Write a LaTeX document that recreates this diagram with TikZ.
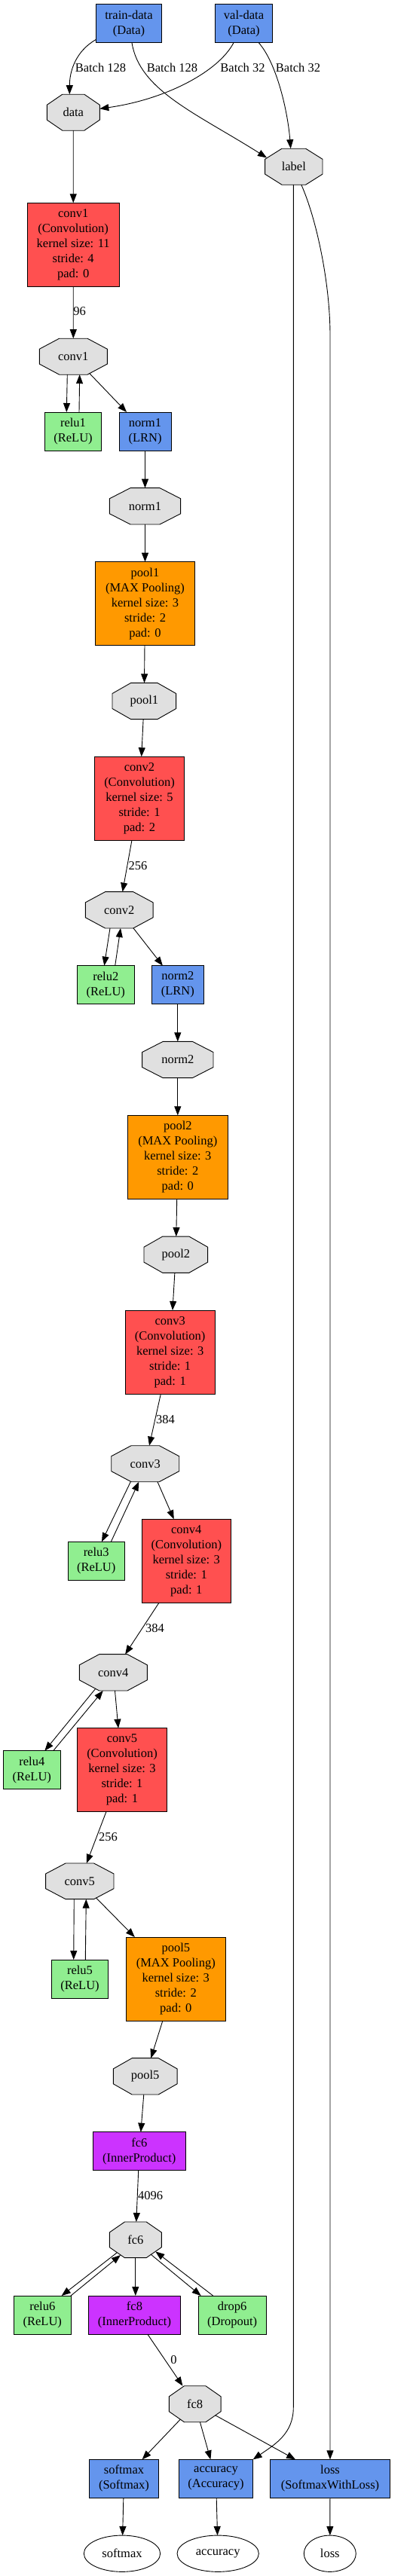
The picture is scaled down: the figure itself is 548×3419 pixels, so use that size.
\documentclass[tikz,border=0pt]{standalone}
\usepackage{fontspec}
\setmainfont{Liberation Serif}
\usetikzlibrary{arrows.meta,calc,shapes.geometric}
\pgfdeclarelayer{bg}
\pgfsetlayers{bg,main}
\definecolor{datablue}{HTML}{6495ED}
\definecolor{convred}{HTML}{FF5050}
\definecolor{poolorange}{HTML}{FF9900}
\definecolor{ippurple}{HTML}{CC33FF}
\definecolor{relugreen}{HTML}{90EE90}
\definecolor{blobgray}{HTML}{E0E0E0}
\tikzset{
  base/.style={inner sep=0pt, outer sep=0pt, align=center, font=\fontsize{16.5}{20}\selectfont},
  wh/.style 2 args={minimum width=#1pt, minimum height=#2pt},
  layerbox/.style={base, rectangle, draw=black, line width=0.9pt},
  datbox/.style={layerbox, fill=datablue},
  convbox/.style={layerbox, fill=convred},
  poolbox/.style={layerbox, fill=poolorange},
  ipbox/.style={layerbox, fill=ippurple},
  relubox/.style={layerbox, fill=relugreen},
  blob/.style={base, rectangle, draw=none},
  outblob/.style={base, ellipse, draw=black, line width=0.9pt, fill=white},
  blobshape/.style={fill=blobgray, draw=black, line width=0.9pt, line join=miter},
  elab/.style={base},
  e/.style={draw=black, line width=0.9pt, -{Triangle[length=12pt,width=9pt]}},
}
\newcommand\octo[1]{%
  \path[blobshape] ($(#1.north west)!0.2929!(#1.north east)$) -- ($(#1.north west)!0.7071!(#1.north east)$)
   -- ($(#1.north east)!0.2929!(#1.south east)$) -- ($(#1.north east)!0.7071!(#1.south east)$)
   -- ($(#1.south east)!0.2929!(#1.south west)$) -- ($(#1.south east)!0.7071!(#1.south west)$)
   -- ($(#1.south west)!0.2929!(#1.north west)$) -- ($(#1.south west)!0.7071!(#1.north west)$) -- cycle;}
\begin{document}
\begin{tikzpicture}[x=1pt,y=-1pt]
\useasboundingbox (0,0) rectangle (548,3419);

% layers
\node[datbox,wh={86.6}{51}] (tdata) at (171,31.2) {train-data\\(Data)};
\node[datbox,wh={76.4}{51}] (vdata) at (323.5,31.2) {val-data\\(Data)};
\node[blob,wh={70}{48}] (data) at (97.3,149.2) {data};
\node[blob,wh={76.3}{48}] (label) at (389.8,221.2) {label};
\node[convbox,wh={122.3}{111.4}] (conv1L) at (97.2,325) {conv1\\(Convolution)\\kernel size: 11\\stride: 4\\pad: 0};
\node[blob,wh={90}{48}] (conv1B) at (97.3,473.2) {conv1};
\node[relubox,wh={75.3}{51}] (relu1) at (97,572.5) {relu1\\(ReLU)};
\node[datbox,wh={69}{51}] (norm1L) at (192.5,572.5) {norm1\\(LRN)};
\node[blob,wh={94.3}{48.3}] (norm1B) at (192.5,671.8) {norm1};
\node[poolbox,wh={132.3}{111}] (pool1L) at (192.5,801.2) {pool1\\(MAX Pooling)\\kernel size: 3\\stride: 2\\pad: 0};
\node[blob,wh={84.7}{48.3}] (pool1B) at (191.3,930.5) {pool1};
\node[convbox,wh={118.7}{111}] (conv2L) at (185,1059.8) {conv2\\(Convolution)\\kernel size: 5\\stride: 1\\pad: 2};
\node[blob,wh={89.7}{48.3}] (conv2B) at (158.2,1207.8) {conv2};
\node[relubox,wh={75.3}{51}] (relu2) at (140.3,1307.2) {relu2\\(ReLU)};
\node[datbox,wh={69}{51}] (norm2L) at (235.8,1307.2) {norm2\\(LRN)};
\node[blob,wh={94.3}{48.3}] (norm2B) at (235.8,1406.5) {norm2};
\node[poolbox,wh={132.3}{111}] (pool2L) at (235.8,1535.8) {pool2\\(MAX Pooling)\\kernel size: 3\\stride: 2\\pad: 0};
\node[blob,wh={84.7}{48.3}] (pool2B) at (233.3,1665.2) {pool2};
\node[convbox,wh={118.7}{111}] (conv3L) at (225.7,1794.5) {conv3\\(Convolution)\\kernel size: 3\\stride: 1\\pad: 1};
\node[blob,wh={90}{48}] (conv3B) at (192.7,1942.7) {conv3};
\node[relubox,wh={75.3}{51}] (relu3) at (127.7,2071.8) {relu3\\(ReLU)};
\node[convbox,wh={118}{111}] (conv4L) at (247.3,2071.8) {conv4\\(Convolution)\\kernel size: 3\\stride: 1\\pad: 1};
\node[blob,wh={90}{48.3}] (conv4B) at (150.3,2219.8) {conv4};
\node[relubox,wh={76}{51}] (relu4) at (42.3,2349.2) {relu4\\(ReLU)};
\node[convbox,wh={118.7}{111}] (conv5L) at (162,2349.2) {conv5\\(Convolution)\\kernel size: 3\\stride: 1\\pad: 1};
\node[blob,wh={90.3}{47.7}] (conv5B) at (105.8,2496.8) {conv5};
\node[relubox,wh={75.3}{51}] (relu5) at (106,2626.5) {relu5\\(ReLU)};
\node[poolbox,wh={132.7}{111}] (pool5L) at (233.3,2626.5) {pool5\\(MAX Pooling)\\kernel size: 3\\stride: 2\\pad: 0};
\node[blob,wh={84.7}{48.3}] (pool5B) at (192.7,2755.8) {pool5};
\node[ipbox,wh={122.3}{51}] (fc6L) at (184.8,2855.2) {fc6\\(InnerProduct)};
\node[blob,wh={69}{47.7}] (fc6B) at (179.8,2972.8) {fc6};
\node[relubox,wh={75.3}{51}] (relu6) at (56.3,3072.5) {relu6\\(ReLU)};
\node[ipbox,wh={122.3}{51}] (fc8L) at (178.5,3072.5) {fc8\\(InnerProduct)};
\node[relubox,wh={90.3}{51}] (drop6) at (308.2,3072.5) {drop6\\(Dropout)};
\node[blob,wh={68.7}{48}] (fc8B) at (258.7,3190.7) {fc8};
\node[datbox,wh={91.7}{50.7}] (softmaxL) at (164.5,3289.7) {softmax\\(Softmax)};
\node[datbox,wh={98.3}{50.7}] (accuracyL) at (286.5,3289.7) {accuracy\\(Accuracy)};
\node[datbox,wh={159.3}{50.7}] (lossL) at (438,3289.7) {loss\\(SoftmaxWithLoss)};
\node[outblob,wh={101.3}{48.3}] (softmaxB) at (162,3389.2) {softmax};
\node[outblob,wh={108.3}{48.3}] (accuracyB) at (289.2,3389.2) {accuracy};
\node[outblob,wh={69}{48.3}] (lossB) at (437.8,3389.2) {loss};

\begin{pgfonlayer}{bg}
  \fill[white] (0,0) rectangle (548,3419);
  \foreach \n in {data,label,conv1B,norm1B,pool1B,conv2B,norm2B,pool2B,conv3B,conv4B,conv5B,pool5B,fc6B,fc8B}{\octo{\n}}
\end{pgfonlayer}

% edge labels
\node[elab] (lb1) at (133.5,90) {Batch 128};
\node[elab] (lb2) at (228.5,90) {Batch 128};
\node[elab] (lb3) at (322,90) {Batch 32};
\node[elab] (lb4) at (395.5,90) {Batch 32};
\node[elab] (l96) at (105.5,413) {96};
\node[elab] (l256a) at (183,1149) {256};
\node[elab] (l384a) at (219.5,1884) {384};
\node[elab] (l384b) at (205.5,2161) {384};
\node[elab] (l256b) at (143.5,2438) {256};
\node[elab] (l4096) at (199.5,2914) {4096};
\node[elab] (l0) at (230.5,3132) {0};

% edges
\draw[e] ($(tdata.west)+(0,21.1)$) .. controls (100,68) and (92.3,95) .. ($(data.north)+(-5,0)$);
\draw[e] ($(tdata.south)+(4,0)$) .. controls (185,120) and (260,150) .. ($(label.center)+(-35.8,-11.8)$);
\draw[e] ($(vdata.south)+(-13.5,0)$) .. controls (290,95) and (220,132) .. ($(data.east)+(0,-4.9)$);
\draw[e] ($(vdata.south)+(19.8,0)$) .. controls (368,85) and (382,150) .. ($(label.north)+(-4.1,0)$);

\draw[e] (data) -- (conv1L);
\draw[e] (conv1L) -- (conv1B);
\draw[e] ($(conv1B.south)+(-8,0)$) -- ($(relu1.north)+(-8.7,0)$);
\draw[e] ($(relu1.north)+(8,0)$) -- ($(conv1B.south)+(8.4,0)$);
\draw[e] ($(conv1B.center)+(21.5,22.4)$) -- (norm1L);
\draw[e] (norm1L) -- (norm1B);
\draw[e] (norm1B) -- (pool1L);
\draw[e] (pool1L) -- (pool1B);
\draw[e] (pool1B) -- (conv2L);
\draw[e] (conv2L) -- (conv2B);
\draw[e] ($(conv2B.south)+(-12.2,0)$) -- ($(relu2.north)+(-2,0)$);
\draw[e] ($(relu2.north)+(12.4,0)$) -- ($(conv2B.south)+(1.8,0)$);
\draw[e] (conv2B) -- (norm2L);
\draw[e] (norm2L) -- (norm2B);
\draw[e] (norm2B) -- (pool2L);
\draw[e] (pool2L) -- (pool2B);
\draw[e] (pool2B) -- (conv3L);
\draw[e] (conv3L) -- (conv3B);
\draw[e] ($(conv3B.south)+(-19.4,0)$) -- ($(relu3.north)+(7.3,0)$);
\draw[e] ($(relu3.north)+(19.6,0)$) -- ($(conv3B.south)+(-8.4,0)$);
\draw[e] ($(conv3B.south)+(16.3,0)$) -- ($(conv4L.north)+(-16.6,0)$);
\draw[e] (conv4L) -- (conv4B);
\draw[e] ($(conv4B.center)+(-23.6,21.5)$) -- ($(relu4.north)+(17,0)$);
\draw[e] ($(relu4.north)+(28.4,0)$) -- ($(conv4B.south)+(-13.6,0)$);
\draw[e] (conv4B) -- (conv5L);
\draw[e] (conv5L) -- (conv5B);
\draw[e] ($(conv5B.south)+(-7.5,0)$) -- ($(relu5.north)+(-8.3,0)$);
\draw[e] ($(relu5.north)+(7.3,0)$) -- ($(conv5B.south)+(8.5,0)$);
\draw[e] ($(conv5B.center)+(21.8,22.2)$) -- (pool5L);
\draw[e] (pool5L) -- (pool5B);
\draw[e] (pool5B) -- (fc6L);
\draw[e] (fc6L) -- (fc6B);
\draw[e] ($(fc6B.center)+(-24.8,17.2)$) -- ($(relu6.north)+(25.4,0)$);
\draw[e] (relu6.north east) -- ($(fc6B.center)+(-19.8,20.2)$);
\draw[e] (fc6B.south) -- (fc6B.south |- fc8L.north);
\draw[e] ($(fc6B.center)+(20.2,19.2)$) -- ($(drop6.north)+(-41.5,0)$);
\draw[e] ($(drop6.north)+(-25.5,0)$) -- ($(fc6B.center)+(26.5,15.5)$);
\draw[e] (fc8L) -- (fc8B);
\draw[e] ($(fc8B.center)+(-19.4,20.4)$) -- (softmaxL);
\draw[e] (fc8B) -- (accuracyL);
\draw[e] ($(fc8B.center)+(27.1,15)$) -- (lossL);
\draw[e] ($(label.south)+(-0.5,0)$) -- ($(label.south)+(-0.5,2950)$) .. controls +(0,35) and +(29,-20) .. (accuracyL.north east);
\draw[e] ($(label.south)+(10,0)$) .. controls +(20,45) and +(0,-70) .. ($(label.south)+(48.2,200)$) -- (lossL.north);
\draw[e] (softmaxL) -- (softmaxB);
\draw[e] (accuracyL) -- (accuracyB);
\draw[e] (lossL) -- (lossB);
\end{tikzpicture}
\end{document}
